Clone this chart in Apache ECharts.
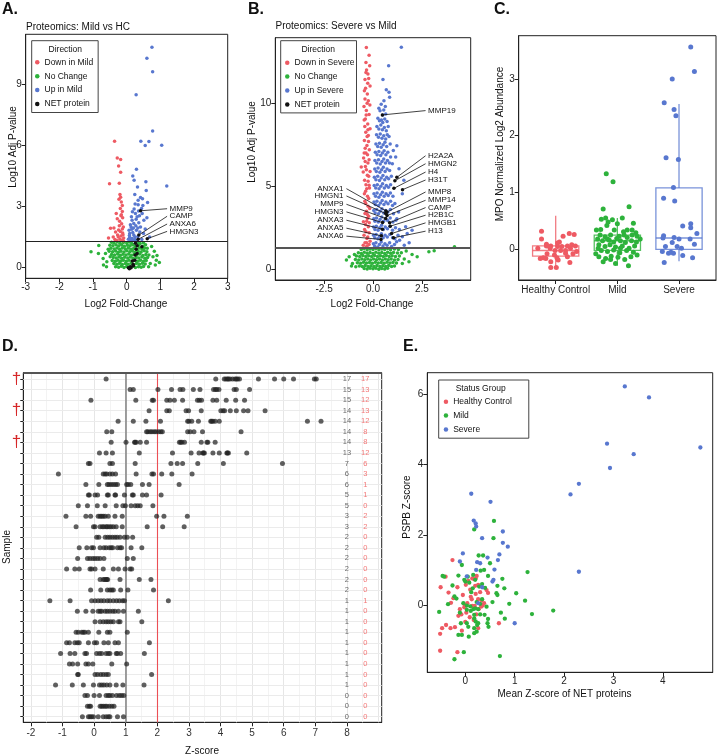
<!DOCTYPE html>
<html><head><meta charset="utf-8">
<script src="https://cdn.jsdelivr.net/npm/echarts@6/dist/echarts.min.js"></script>
<style>html,body{margin:0;padding:0;background:#fff}#c{width:717px;height:756px}</style>
</head><body><div id="c"></div>
<script>
// ---------------- Panel A: Mild vs HC volcano ----------------
const A_down = [[-0.36,6.2],[-0.28,5.38],[-0.18,5.3],[-0.24,4.99],[-0.18,4.68],[-0.51,4.11],[-0.22,4.14],[-0.2,3.59],[-0.18,3.45],[-0.23,3.35],[-0.16,3.22],[-0.13,3.05],[-0.19,2.9],[-0.13,2.75],[-0.31,2.66],[-0.17,2.55],[-0.28,2.4],[-0.21,2.28],[-0.15,2.15],[-0.1,2.0],[-0.38,1.95],[-0.48,1.93],[-0.24,1.85],[-0.33,1.75],[-0.12,1.7],[-0.27,1.6],[-0.17,1.55],[-0.54,1.45],[-0.09,1.45],[-0.2,1.4],[-0.35,1.38],[-0.14,1.35],[-0.25,1.5],[-0.11,1.62],[-0.19,1.78],[-0.13,1.9],[-0.22,2.05],[-0.4,1.5],[-0.12,2.45],[-0.16,2.6],[-0.1,1.32],[-0.3,1.33]];
const A_up = [[0.75,10.8],[0.6,10.27],[0.77,9.6],[0.28,8.48],[0.77,6.7],[0.42,6.2],[0.66,6.18],[0.55,5.99],[1.04,6.0],[0.29,4.83],[0.18,4.49],[0.22,4.28],[0.57,4.21],[1.19,4.01],[0.32,3.95],[0.58,3.78],[0.24,3.59],[0.41,3.44],[0.34,3.31],[0.47,3.38],[0.25,3.12],[0.34,3.08],[0.44,2.9],[0.17,2.74],[0.26,2.66],[0.31,2.5],[0.46,2.66],[0.51,2.33],[0.16,2.33],[0.21,2.17],[0.13,2.0],[0.29,1.84],[0.09,1.68],[0.21,1.6],[0.16,1.43],[0.09,1.48],[0.41,2.0],[0.5,1.68],[0.07,1.84],[0.12,1.35],[0.25,1.38],[0.33,1.52],[0.2,1.95],[0.36,2.2],[0.28,2.38],[0.11,2.1],[0.39,1.75],[0.05,1.4],[0.18,1.72],[0.27,2.05],[0.14,2.5],[0.35,2.78],[0.22,2.88],[0.48,3.05],[0.6,2.45],[0.68,1.5],[0.45,1.38],[0.08,1.58],[0.3,1.32],[0.2,1.33],[0.38,2.55],[0.62,3.2],[0.55,1.9],[0.15,1.88],[0.24,1.52],[0.33,1.95]];
const A_nochange = [[-1.06,0.78],[-0.83,1.09],[-0.84,0.7],[-0.63,0.7],[-0.49,0.54],[0.78,0.54],[0.82,0.8],[0.88,0.37],[0.97,0.26],[0.85,0.13],[-0.69,0.13],[-0.59,0.29],[0.74,1.04],[0.61,0.95],[-0.7,0.45],[-0.55,0.9],[0.9,0.6],[0.7,0.2],[-0.6,0.05],[0.65,0.05],
[-0.45,1.25],[-0.38,1.22],[-0.28,1.27],[-0.2,1.2],[-0.1,1.24],[0.0,1.21],[0.08,1.26],[0.15,1.19],[0.32,1.23],[0.4,1.18],[0.5,1.22],
[-0.5,1.1],[-0.41,1.08],[-0.32,1.12],[-0.24,1.06],[-0.15,1.11],[-0.07,1.05],[0.02,1.1],[0.1,1.07],[0.18,1.12],[0.26,1.05],[0.35,1.1],[0.48,1.05],[0.56,1.12],
[-0.47,0.95],[-0.37,0.92],[-0.29,0.97],[-0.21,0.9],[-0.13,0.96],[-0.04,0.92],[0.05,0.97],[0.13,0.9],[0.21,0.95],[0.3,0.91],[0.38,0.96],[0.46,0.9],[0.53,0.97],
[-0.52,0.8],[-0.42,0.78],[-0.33,0.82],[-0.25,0.76],[-0.17,0.81],[-0.08,0.77],[0.0,0.83],[0.09,0.78],[0.17,0.82],[0.25,0.76],[0.34,0.81],[0.43,0.77],[0.52,0.83],[0.6,0.78],
[-0.45,0.65],[-0.36,0.62],[-0.27,0.67],[-0.19,0.61],[-0.11,0.66],[-0.02,0.62],[0.06,0.67],[0.14,0.61],[0.22,0.66],[0.3,0.62],[0.39,0.67],[0.48,0.6],[0.57,0.65],[0.66,0.62],
[-0.4,0.5],[-0.31,0.47],[-0.23,0.52],[-0.15,0.46],[-0.06,0.51],[0.03,0.47],[0.11,0.52],[0.19,0.46],[0.28,0.5],[0.36,0.47],[0.45,0.52],[0.54,0.46],[0.62,0.5],
[-0.43,0.35],[-0.34,0.32],[-0.26,0.37],[-0.18,0.31],[-0.1,0.36],[-0.01,0.32],[0.07,0.37],[0.16,0.31],[0.24,0.36],[0.33,0.32],[0.41,0.37],[0.5,0.31],[0.58,0.35],
[-0.38,0.2],[-0.29,0.17],[-0.21,0.22],[-0.13,0.16],[-0.04,0.21],[0.04,0.17],[0.13,0.22],[0.21,0.16],[0.29,0.21],[0.38,0.17],[0.47,0.22],[0.55,0.18],
[-0.33,0.05],[-0.24,0.02],[-0.16,0.07],[-0.08,0.01],[0.0,0.06],[0.09,0.02],[0.18,0.07],[0.26,0.01],[0.35,0.05],[0.43,0.02],[0.5,0.06]];
const A_net = [[0.41,2.79],[0.36,1.6],[0.34,1.39],[0.61,1.42],[0.31,1.07],[0.45,1.03],[0.28,0.9],[0.25,0.62],[0.24,0.37],[0.19,0.16],[0.11,0.05],[0.13,0.0],[0.05,0.0],[0.17,0.33],[0.26,1.2],[0.31,0.7],[0.08,-0.05],[0.2,0.1]];
const A_labels = [
  {name:'MMP9', px:0.41, py:2.79, lx:1.2, ly:2.89, side:'r'},
  {name:'CAMP', px:0.36, py:1.6, lx:1.2, ly:2.52, side:'r'},
  {name:'ANXA6', px:0.34, py:1.39, lx:1.2, ly:2.14, side:'r'},
  {name:'HMGN3', px:0.61, py:1.42, lx:1.2, ly:1.78, side:'r'}
];
// ---------------- Panel B: Severe vs Mild volcano ----------------
const B_down = [[-0.34,13.36],[-0.2,12.9],[-0.36,12.46],[-0.17,12.26],[-0.36,11.86],[-0.26,11.76],[-0.41,11.44],[-0.15,11.04],[-0.44,10.76],[-0.29,10.56],[-0.41,10.26],[-0.24,10.16],[-0.46,9.8],[-0.34,9.56],[-0.2,9.32],[-0.39,9.06],[-0.27,8.76],[-0.15,8.46],[-0.37,8.26],[-0.24,8.06],[-0.44,7.76],[-0.31,7.46],[-0.19,7.2],[-0.36,7.0],[-0.48,6.7],[-0.26,6.4],[-0.39,6.2],[-0.6,6.16],[-0.5,5.86],[-0.29,5.66],[-0.43,5.36],[-0.2,5.06],[-0.32,4.86],[-0.44,4.56],[-0.22,4.26],[-0.37,3.96],[-0.17,3.66],[-0.41,3.36],[-0.29,3.06],[-0.49,2.86],[-0.24,2.56],[-0.36,2.26],[-0.46,2.06],[-0.31,1.86],[-0.41,1.6],[-0.2,1.5],[-0.3,1.4],
[-0.33,12.0],[-0.22,11.5],[-0.38,10.9],[-0.3,10.0],[-0.35,9.3],[-0.42,8.6],[-0.3,8.0],[-0.23,7.7],[-0.4,7.3],[-0.28,6.9],[-0.2,6.6],[-0.34,6.0],[-0.25,5.3],[-0.38,4.7],[-0.28,4.4],[-0.25,3.8],[-0.33,3.5],[-0.22,3.2],[-0.38,2.7],[-0.2,2.2],[-0.27,1.95],[-0.5,1.45],[-0.15,1.7],[-0.35,1.35],[-0.42,4.1],[-0.15,5.9],[-0.45,7.0],[-0.16,9.9],[-0.27,11.2],[-0.45,9.0],[-0.18,4.9],[-0.32,2.9],[-0.26,8.4],[-0.4,6.5],[-0.22,5.6],[-0.36,5.1],[-0.29,3.3],[-0.43,2.4],[-0.19,2.8],[-0.33,1.6]];
const B_up = [[1.45,13.38],[0.8,12.26],[0.51,11.44],[0.68,10.82],[0.82,10.66],[0.85,10.36],[0.56,10.16],[0.63,9.8],[0.65,9.36],[0.43,9.0],[0.5,9.3],[0.82,8.0],[1.22,7.44],[1.04,7.16],[0.9,6.76],[1.16,6.76],[0.99,6.36],[1.33,6.06],[1.58,5.36],[1.5,4.56],[1.12,3.96],[1.31,3.46],[1.17,2.96],[1.67,2.56],[2.0,2.36],[1.75,2.16],[1.5,1.96],[1.36,1.76],[1.0,1.9],[1.21,1.66],[1.85,1.6],[1.6,1.45],
[0.3,9.7],[0.42,9.95],[0.36,9.55],[0.55,9.6],
[0.25,9.1],[0.33,8.95],[0.5,8.85],[0.6,9.05],[0.72,8.9],
[0.2,8.6],[0.3,8.45],[0.4,8.7],[0.48,8.4],[0.58,8.55],[0.68,8.35],[0.78,8.6],
[0.18,8.1],[0.28,7.95],[0.37,8.15],[0.46,7.9],[0.55,8.05],[0.65,7.85],[0.73,8.1],
[0.15,7.55],[0.24,7.4],[0.33,7.6],[0.42,7.35],[0.52,7.5],[0.61,7.65],[0.7,7.4],[0.88,7.55],
[0.12,7.05],[0.21,6.9],[0.3,7.1],[0.39,6.85],[0.48,7.0],[0.57,7.15],[0.66,6.9],[0.76,7.05],
[0.1,6.55],[0.19,6.4],[0.28,6.6],[0.37,6.35],[0.46,6.5],[0.55,6.65],[0.64,6.4],[0.74,6.55],[0.84,6.4],
[0.09,6.05],[0.17,5.9],[0.26,6.1],[0.35,5.85],[0.44,6.0],[0.53,6.15],[0.62,5.9],[0.72,6.05],[0.85,5.95],
[0.07,5.55],[0.15,5.4],[0.24,5.6],[0.33,5.35],[0.42,5.5],[0.51,5.65],[0.6,5.4],[0.7,5.55],[0.8,5.45],[0.94,5.6],
[0.06,5.05],[0.14,4.9],[0.22,5.1],[0.31,4.85],[0.4,5.0],[0.49,5.15],[0.58,4.9],[0.68,5.05],[0.79,4.95],[0.9,5.1],
[0.05,4.55],[0.13,4.4],[0.21,4.6],[0.3,4.35],[0.39,4.5],[0.48,4.65],[0.57,4.4],[0.67,4.55],[0.78,4.45],[0.89,4.6],[1.02,4.4],
[0.05,4.05],[0.12,3.9],[0.2,4.1],[0.29,3.85],[0.38,4.0],[0.47,4.15],[0.56,3.9],[0.66,4.05],[0.77,3.95],[0.9,4.1],[1.0,3.85],
[0.04,3.55],[0.11,3.4],[0.19,3.6],[0.28,3.35],[0.37,3.5],[0.46,3.65],[0.55,3.4],[0.65,3.55],[0.76,3.45],[0.89,3.6],[1.05,3.35],
[0.04,3.05],[0.1,2.9],[0.18,3.1],[0.27,2.85],[0.36,3.0],[0.45,3.15],[0.54,2.9],[0.64,3.05],[0.75,2.95],[0.88,3.1],[1.02,2.85],[1.22,3.05],
[0.03,2.55],[0.1,2.4],[0.17,2.6],[0.26,2.35],[0.35,2.5],[0.44,2.65],[0.53,2.4],[0.63,2.55],[0.74,2.45],[0.87,2.6],[1.0,2.35],[1.15,2.5],[1.35,2.4],
[0.03,2.05],[0.09,1.9],[0.16,2.1],[0.25,1.85],[0.34,2.0],[0.43,2.15],[0.52,1.9],[0.62,2.05],[0.73,1.95],[0.86,2.1],[1.12,1.85],[1.28,2.05],
[0.02,1.55],[0.08,1.4],[0.15,1.6],[0.24,1.35],[0.33,1.5],[0.42,1.65],[0.51,1.4],[0.61,1.55],[0.72,1.45],[0.85,1.6],[0.95,1.38],[1.1,1.5]];
const B_nochange = [[2.86,1.06],[3.13,1.12],[4.17,1.36],[2.26,0.76],[-1.36,0.56],[-1.22,0.76],[-1.05,0.36],[-0.88,0.16],[1.5,0.36],[1.84,0.46],[2.0,0.9],[1.7,1.1],[-0.95,0.9],[-1.1,0.2],
[-0.6,1.2],[-0.45,1.25],[-0.3,1.18],[-0.15,1.22],[0.0,1.2],[0.15,1.25],[0.3,1.18],[0.45,1.22],[0.6,1.2],[0.75,1.25],[0.9,1.18],[1.1,1.22],[1.3,1.2],
[-0.75,1.0],[-0.6,0.95],[-0.45,1.03],[-0.3,0.97],[-0.15,1.02],[0.0,0.96],[0.15,1.03],[0.3,0.97],[0.45,1.02],[0.6,0.96],[0.75,1.03],[0.9,0.97],[1.05,1.02],[1.25,0.98],[1.45,1.0],
[-0.85,0.8],[-0.68,0.77],[-0.52,0.83],[-0.37,0.78],[-0.22,0.82],[-0.07,0.77],[0.08,0.83],[0.23,0.78],[0.38,0.82],[0.53,0.77],[0.68,0.83],[0.83,0.78],[0.98,0.82],[1.15,0.78],[1.35,0.8],
[-0.9,0.6],[-0.73,0.57],[-0.57,0.63],[-0.42,0.58],[-0.27,0.62],[-0.12,0.57],[0.03,0.63],[0.18,0.58],[0.33,0.62],[0.48,0.57],[0.63,0.63],[0.78,0.58],[0.93,0.62],[1.1,0.57],[1.28,0.6],[1.6,0.62],
[-0.8,0.4],[-0.63,0.37],[-0.48,0.43],[-0.33,0.38],[-0.18,0.42],[-0.03,0.37],[0.12,0.43],[0.27,0.38],[0.42,0.42],[0.57,0.37],[0.72,0.43],[0.87,0.38],[1.02,0.42],[1.2,0.38],
[-0.7,0.2],[-0.55,0.17],[-0.4,0.23],[-0.25,0.18],[-0.1,0.22],[0.05,0.17],[0.2,0.23],[0.35,0.18],[0.5,0.22],[0.65,0.17],[0.8,0.23],[0.95,0.18],[1.1,0.2],
[-0.45,0.05],[-0.3,0.02],[-0.15,0.07],[0.0,0.03],[0.15,0.06],[0.3,0.01],[0.45,0.05],[0.6,0.02],[0.75,0.06]];
const B_labels = [
  {name:'MMP19', px:0.48, py:9.3, lx:2.69, ly:9.56, side:'r'},
  {name:'H2A2A', px:1.22, py:5.54, lx:2.69, ly:6.84, side:'r'},
  {name:'HMGN2', px:1.12, py:5.34, lx:2.69, ly:6.36, side:'r'},
  {name:'H4', px:1.07, py:4.88, lx:2.69, ly:5.86, side:'r'},
  {name:'H31T', px:1.51, py:4.8, lx:2.69, ly:5.38, side:'r'},
  {name:'MMP8', px:0.7, py:3.44, lx:2.69, ly:4.66, side:'r'},
  {name:'MMP14', px:0.72, py:3.24, lx:2.69, ly:4.16, side:'r'},
  {name:'CAMP', px:0.85, py:2.8, lx:2.69, ly:3.72, side:'r'},
  {name:'H2B1C', px:0.88, py:2.6, lx:2.69, ly:3.26, side:'r'},
  {name:'HMGB1', px:0.95, py:2.16, lx:2.69, ly:2.8, side:'r'},
  {name:'H13', px:1.05, py:1.9, lx:2.69, ly:2.3, side:'r'},
  {name:'ANXA1', px:0.66, py:3.52, lx:-1.36, ly:4.86, side:'l'},
  {name:'HMGN1', px:0.65, py:3.36, lx:-1.36, ly:4.42, side:'l'},
  {name:'MMP9', px:0.65, py:3.06, lx:-1.36, ly:3.92, side:'l'},
  {name:'HMGN3', px:0.49, py:2.82, lx:-1.36, ly:3.46, side:'l'},
  {name:'ANXA3', px:0.48, py:2.42, lx:-1.36, ly:2.96, side:'l'},
  {name:'ANXA5', px:0.43, py:2.02, lx:-1.36, ly:2.48, side:'l'},
  {name:'ANXA6', px:0.41, py:1.8, lx:-1.36, ly:2.0, side:'l'}
];
// ---------------- Panel C: MPO box plot ----------------
const C_categories = ['Healthy Control','Mild','Severe'];
// [low whisker, Q1, median, Q3, high whisker]
const C_boxStats = [[-0.33,-0.12,-0.02,0.06,0.59],[-0.29,-0.02,0.15,0.25,0.55],[-0.21,0.0,0.2,1.08,2.56]];
// [jitter offset from category, value]
const C_hc = [[-0.23,0.32],[-0.23,0.18],[-0.29,0.02],[-0.08,0.06],[0.06,0.13],[0.19,0.06],[0.22,0.28],[0.3,0.26],[0.12,0.23],[0.03,0.11],[-0.15,0.09],[-0.09,0.02],[-0.16,-0.16],[-0.2,-0.15],[-0.02,-0.1],[0.16,-0.02],[0.24,0.02],[0.26,0.08],[0.32,0.06],[0.34,-0.04],[0.23,-0.23],[0.01,-0.32],[-0.08,-0.32],[-0.08,-0.22],[0.04,-0.19],[0.16,-0.07],[-0.01,-0.02],[-0.14,-0.08],[0.1,0.05],[0.28,-0.08],[0.03,0.05],[0.08,-0.02],[-0.15,0.06],[0.02,-0.15],[-0.25,-0.16],[0.19,-0.13]];
const C_mild = [[-0.18,1.33],[-0.07,1.19],[-0.23,0.71],[0.19,0.75],[-0.26,0.53],[-0.19,0.55],[0.08,0.55],[0.26,0.46],[-0.17,0.42],[0.0,0.45],[-0.34,0.34],[-0.15,0.48],[-0.05,0.34],[0.1,0.31],[0.24,0.34],[0.3,0.29],[-0.28,0.25],[-0.2,0.22],[-0.11,0.25],[0.03,0.23],[0.16,0.21],[0.32,0.23],[-0.32,0.18],[-0.24,0.15],[-0.16,0.18],[-0.06,0.13],[0.05,0.15],[0.13,0.12],[0.23,0.15],[0.31,0.13],[-0.3,0.08],[-0.2,0.05],[-0.12,0.08],[-0.03,0.04],[0.08,0.06],[0.19,0.02],[0.28,0.06],[-0.26,-0.02],[-0.16,-0.04],[-0.06,-0.01],[0.04,-0.06],[0.15,-0.02],[0.26,-0.05],[-0.3,-0.13],[-0.19,-0.16],[-0.1,-0.12],[0.01,-0.14],[0.12,-0.18],[0.22,-0.13],[-0.11,-0.18],[-0.23,-0.22],[0.18,-0.29],[-0.03,-0.25],[0.32,-0.1],[-0.31,0.02],[0.16,0.34],[-0.08,0.52],[0.11,0.25],[-0.27,0.35],[0.24,0.25],[-0.13,0.16],[-0.01,0.19],[0.05,0.02],[0.37,0.18],[-0.35,-0.08]];
const C_severe = [[0.19,3.56],[0.25,3.13],[-0.11,3.0],[-0.24,2.58],[-0.08,2.46],[-0.05,2.35],[-0.21,1.61],[-0.01,1.58],[-0.09,1.09],[-0.25,0.9],[-0.07,0.85],[0.06,0.41],[0.19,0.45],[0.19,0.38],[0.29,0.28],[-0.25,0.24],[-0.08,0.21],[0.0,0.18],[0.18,0.18],[-0.26,0.2],[0.25,0.09],[-0.22,0.05],[-0.03,0.05],[-0.11,0.12],[-0.13,-0.05],[-0.27,-0.04],[-0.09,-0.07],[-0.17,-0.07],[0.06,-0.11],[0.22,-0.15],[-0.24,-0.23],[0.04,0.02]];
// ---------------- Panel D: per-sample NET protein Z-scores ----------------
const D_rows = [
 [0.38,3.85,4.12,4.17,4.22,4.25,4.3,4.38,4.46,4.5,4.54,4.6,5.2,5.71,6.0,6.31,6.97,7.03],
 [1.14,1.24,2.02,2.45,2.72,2.81,3.14,3.35,3.78,3.84,3.88,3.95,4.43,4.5,4.92],
 [-0.1,1.32,1.84,1.88,2.3,2.4,2.54,2.8,3.27,3.33,3.4,3.76,3.88,4.18,4.48,4.76],
 [1.74,2.3,2.38,2.91,2.99,3.39,4.01,4.08,4.13,4.31,4.5,4.73,4.87,5.41],
 [0.76,1.24,1.64,2.1,2.96,3.0,3.09,3.3,3.69,3.72,3.76,3.83,3.96,6.75,7.18],
 [0.4,0.56,1.66,1.7,1.77,1.83,1.9,1.96,2.04,2.11,2.16,2.96,3.04,3.16,3.43,4.65],
 [0.54,1.01,1.28,1.3,1.33,1.46,1.66,2.7,2.74,2.78,2.86,3.39,3.57,3.6,3.83],
 [0.17,0.38,0.58,1.43,2.48,3.07,3.32,3.44,3.46,3.49,3.76,3.96,4.2,4.22,4.25,4.83],
 [-0.18,-0.13,0.5,0.58,1.3,2.43,2.63,2.8,3.28,4.09,5.96],
 [-1.13,0.29,0.35,0.4,0.5,0.58,0.68,1.33,1.83,1.88,2.14,2.46,3.1],
 [-0.26,0.15,0.42,0.47,0.54,0.61,0.68,0.74,1.03,1.08,1.16,1.53,1.74,2.69],
 [-0.18,-0.15,0.03,0.11,0.42,0.45,0.66,0.68,0.96,1.21,1.24,1.53,1.66,2.12],
 [-0.5,-0.21,0.1,0.35,0.7,0.91,0.99,1.17,1.3,1.38,1.46,1.86],
 [-0.89,-0.26,-0.11,0.13,0.19,0.24,0.29,0.35,0.45,0.66,0.89,1.98,2.21,2.95],
 [-0.57,-0.02,0.03,0.19,0.26,0.31,0.38,0.42,0.48,0.54,0.61,0.7,0.89,1.68,2.17,2.85],
 [0.08,0.15,0.35,0.43,0.5,0.58,0.66,0.73,0.82,0.96,1.05,1.22],
 [-0.47,-0.23,-0.08,-0.02,0.19,0.31,0.38,0.48,0.54,0.59,0.74,0.82,0.87,1.17,1.51],
 [-0.52,-0.21,-0.13,-0.04,0.03,0.11,0.19,0.31,1.05,1.24],
 [-0.87,-0.61,-0.47,-0.13,-0.08,0.03,0.29,0.61,0.77,0.98,1.14,1.19],
 [0.19,0.29,0.33,0.38,0.4,0.43,0.82,1.43,1.8],
 [-0.11,0.21,0.42,0.5,0.56,0.61,0.84,1.07,1.88],
 [-1.4,-0.76,-0.08,0.03,0.13,0.22,0.31,0.42,0.5,0.61,0.71,0.8,0.9,0.96,2.35],
 [-0.53,-0.26,-0.04,0.13,0.19,0.24,0.35,0.42,0.5,0.59,0.66,0.77,0.93,1.4],
 [0.03,0.19,0.29,0.38,0.45,0.53,0.61,0.77,0.82,1.51],
 [-0.57,-0.5,-0.39,-0.34,-0.29,-0.18,0.15,0.42,0.5,1.05],
 [-0.87,-0.78,-0.61,-0.53,-0.47,-0.18,0.01,0.08,0.31,0.45,0.66,0.77,1.75],
 [-1.06,-0.76,-0.61,-0.29,-0.24,0.08,0.17,0.24,0.38,0.45,0.5,0.7,0.74,0.84,1.59],
 [-0.78,-0.68,-0.52,-0.26,-0.18,-0.04,0.56,1.03],
 [-0.52,-0.5,0.03,0.11,0.21,0.29,0.38,0.45,1.82],
 [-1.22,-0.69,-0.34,-0.02,0.17,0.24,0.31,0.4,0.5,0.7,0.91,1.58],
 [-0.29,-0.21,0.0,0.17,0.38,0.45,0.5,0.58,0.71,0.8,0.87,0.94],
 [-0.21,-0.15,-0.11,0.19,0.24,0.29,0.35,0.4,0.48,0.56,0.63],
 [-0.37,-0.18,-0.13,-0.08,-0.02,0.13,0.29,0.38,0.45,0.5,0.74,0.93]
];
const D_countAbove1 = [17,15,15,14,14,14,14,13,7,6,6,5,5,3,3,2,2,2,2,2,2,1,1,1,1,1,1,1,1,1,0,0,0];
const D_countAbove2 = [17,13,12,13,12,8,8,12,6,3,1,1,0,2,2,0,0,0,0,0,0,1,0,0,0,0,0,0,0,0,0,0,0];
const D_daggerRows = [1,4,7];
const D_xTicks = [-2,-1,0,1,2,3,4,5,6,7,8];
// ---------------- Panel E: PSPB vs mean NET Z-score ----------------
const E_hc = [[-0.26,1.29],[-0.4,0.82],[-0.5,0.52],[-0.34,0.37],[-0.29,0.08],[-0.24,0.21],[-0.16,0.52],[-0.11,-0.1],[-0.14,-0.29],[-0.08,-0.25],[-0.01,0.0],[0.04,0.07],[-0.02,-0.05],[0.01,0.59],[0.06,0.7],[0.14,0.77],[0.18,0.75],[0.21,0.77],[0.23,0.84],[0.2,0.56],[0.26,0.59],[0.21,0.33],[0.11,0.25],[0.13,0.18],[0.14,-0.01],[0.19,-0.01],[0.26,0.18],[0.27,-0.1],[0.32,-0.03],[0.35,0.0],[0.38,0.07],[0.43,0.44],[0.46,0.36],[-0.51,-0.8],[-0.47,-0.64],[-0.39,-0.55],[-0.3,-0.64],[-0.21,-0.61],[-0.07,-0.71],[0.0,-0.46],[0.09,-0.33],[0.17,-0.41],[-0.51,-1.28],[-0.16,-1.32],[0.68,-0.5],[0.26,-0.64],[0.3,0.38],[-0.05,0.3],[0.1,0.45],[0.02,-0.2],[0.22,-0.25],[0.33,0.15]];
const E_mild = [[-0.53,-0.18],[-0.46,0.84],[-0.43,0.82],[-0.35,0.04],[-0.26,0.57],[-0.22,0.26],[-0.07,1.15],[-0.14,0.85],[-0.02,0.73],[0.05,0.82],[0.0,0.68],[0.08,0.65],[0.16,0.87],[0.18,2.16],[0.58,2.4],[0.57,1.91],[0.27,1.42],[0.36,1.42],[0.38,1.01],[0.5,1.2],[0.31,0.99],[0.34,0.61],[0.28,0.54],[0.46,0.84],[0.75,0.76],[0.79,0.49],[0.63,0.35],[0.65,0.56],[0.65,0.3],[0.2,0.73],[0.15,0.49],[-0.11,-0.2],[-0.09,-0.5],[-0.07,-0.83],[-0.14,-0.83],[0.07,-0.88],[0.03,-0.5],[0.06,-0.6],[0.03,-0.12],[0.11,-0.15],[0.16,-0.1],[0.2,-0.08],[0.26,-0.1],[0.18,-0.26],[0.18,-0.36],[0.21,-0.45],[0.24,-0.55],[0.18,-0.64],[0.18,-0.78],[0.23,-0.74],[0.26,-0.5],[0.3,-0.25],[0.39,-0.26],[0.43,-0.03],[0.46,-0.38],[0.47,-0.6],[0.45,-0.5],[-0.03,-1.32],[-0.22,-1.52],[0.7,-1.43],[0.89,0.05],[1.03,0.35],[1.21,0.14],[1.26,0.95],[1.35,-0.24],[1.78,-0.14],[0.8,-0.37],[0.34,0.18],[-0.04,0.07],[0.03,0.0],[0.1,-0.02],[0.23,0.1],[0.3,0.05],[0.12,0.38],[0.4,0.5],[-0.18,0.2],[0.55,0.1],[0.72,-0.2]];
const E_severe = [[0.12,3.17],[0.51,2.94],[0.17,2.41],[0.21,2.33],[0.22,2.24],[0.34,1.91],[0.76,2.1],[0.76,1.78],[0.86,1.67],[-0.05,1.48],[-0.11,1.25],[0.69,1.45],[0.66,1.29],[0.24,1.23],[0.3,1.2],[0.22,1.01],[0.59,1.02],[0.45,1.36],[0.03,0.83],[0.57,0.73],[0.55,0.68],[0.34,0.52],[0.26,0.07],[1.0,-0.5],[3.23,6.21],[3.72,5.9],[2.87,4.59],[4.76,4.48],[3.41,4.29],[2.93,3.9],[2.3,3.45],[2.13,3.15],[2.3,0.96]];

// ---------------- styling ----------------
const RED = '#EE5A63', GREEN = '#2DB23B', BLUE = '#5877CF', NETC = '#111111';
const FONT = 'Liberation Sans, Arial, Helvetica, sans-serif';
const INK = '#222';

function valAxis(gi, min, max, ticks, extra) {
  const o = {
    type: 'value', gridIndex: gi, min: min, max: max,
    axisLine: {show: true, onZero: false, lineStyle: {color: INK, width: 1}},
    axisTick: {show: true, inside: false, length: 4, customValues: ticks, lineStyle: {color: INK, width: 1}},
    axisLabel: {show: true, customValues: ticks, fontSize: 10, color: INK, fontFamily: FONT, margin: 4, showMinLabel: true, showMaxLabel: true},
    splitLine: {show: false}
  };
  return Object.assign(o, extra || {});
}

const grids = [
  {left: 25.7, top: 34.3, width: 202, height: 244},
  {left: 275.3, top: 37.7, width: 195.4, height: 242.3},
  {left: 518.7, top: 35.7, width: 197.3, height: 244.3},
  {left: 23.3, top: 372.7, width: 358.4, height: 349.6},
  {left: 427.3, top: 372.7, width: 285.4, height: 299.6}
].map(g => Object.assign({show: true, borderColor: INK, borderWidth: 1, backgroundColor: 'transparent'}, g));

const xAxes = [
  valAxis(0, -3, 3, [-3,-2,-1,0,1,2,3]),
  valAxis(1, -5, 5, [-2.5,0,2.5]),
  valAxis(2, -0.6, 2.6, [0,1,2]),
  valAxis(3, -2.24, 9.1, D_xTicks),
  valAxis(4, -0.77, 5.01, [0,1,2,3,4])
];
xAxes[1].axisLabel.formatter = v => v.toFixed(1);
xAxes[2].axisLabel.formatter = v => C_categories[Math.round(v)];
xAxes[2].axisLabel.margin = 5;
xAxes[3].axisLabel.margin = 6;
xAxes[3].axisLabel.color = '#333';

const yRows = D_rows.map((r, i) => i + 1);
const yAxes = [
  valAxis(0, -0.52, 11.44, [0,3,6,9]),
  valAxis(1, -0.64, 13.95, [0,5,10]),
  valAxis(2, -0.54, 3.76, [0,1,2,3]),
  valAxis(3, 0.4, 33.53, yRows, {inverse: true}),
  valAxis(4, -1.89, 6.6, [0,2,4,6])
];
yAxes[3].axisTick.length = 3;
yAxes[3].axisLabel = {show: true, customValues: yRows, margin: 2, fontSize: 17, color: '#D62728', fontFamily: FONT,
  formatter: v => D_daggerRows.indexOf(Math.round(v)) >= 0 ? '\u2020' : ''};

function sc(name, gi, data, color, size, z) {
  return {type: 'scatter', name: name, xAxisIndex: gi, yAxisIndex: gi, data: data, symbol: 'circle', symbolSize: size,
    itemStyle: {color: color, opacity: 1}, z: z || 2, silent: true, animation: false};
}
function hline(v, color, width) {
  return {silent: true, symbol: ['none','none'], label: {show: false}, animation: false,
    lineStyle: {color: color, width: width, type: 'solid'}, data: [{yAxis: v}]};
}
function labelSeries(gi, labels) {
  return {type: 'custom', xAxisIndex: gi, yAxisIndex: gi, z: 6, silent: true, animation: false,
    data: labels.map(l => [l.px, l.py, l.lx, l.ly]),
    renderItem: (params, api) => {
      const L = labels[params.dataIndex];
      const p = api.coord([L.px, L.py]);
      const q = api.coord([L.lx, L.ly]);
      const right = L.side === 'r';
      return {type: 'group', children: [
        {type: 'line', shape: {x1: p[0], y1: p[1], x2: q[0], y2: q[1]}, style: {stroke: '#111', lineWidth: 0.8}},
        {type: 'text', x: q[0] + (right ? 2.5 : -3), y: q[1], style: {text: L.name, fill: '#111', fontSize: 8, fontFamily: FONT, align: right ? 'left' : 'right', verticalAlign: 'middle'}}
      ]};
    }};
}
function vlineSeries(gi, v, color, width, z) {
  return {type: 'scatter', xAxisIndex: gi, yAxisIndex: gi, data: [], z: z, silent: true,
    markLine: {z: z, silent: true, symbol: ['none','none'], label: {show: false}, animation: false,
      lineStyle: {color: color, width: width, type: 'solid'}, data: [{xAxis: v}]}};
}

const series = [];
// A
series.push(sc('No Change', 0, A_nochange, GREEN, 3.5, 2), sc('Down in Mild', 0, A_down, RED, 3.5, 3), sc('Up in Mild', 0, A_up, BLUE, 3.5, 3));
const aNet = sc('NET protein', 0, A_net, NETC, 3.5, 5);
aNet.markLine = hline(1.3, '#222', 1);
series.push(aNet, labelSeries(0, A_labels));
// B
series.push(sc('No Change', 1, B_nochange, GREEN, 3.5, 2), sc('Down in Severe', 1, B_down, RED, 3.5, 3), sc('Up in Severe', 1, B_up, BLUE, 3.5, 3));
const bNet = sc('NET protein', 1, B_labels.map(l => [l.px, l.py]), NETC, 3.5, 5);
bNet.markLine = hline(1.3, '#555', 1.8);
series.push(bNet, labelSeries(1, B_labels));
// C boxes
const boxColors = [RED, GREEN, BLUE];
series.push({type: 'custom', xAxisIndex: 2, yAxisIndex: 2, z: 2, silent: true, animation: false,
  data: C_boxStats.map((s, i) => [i].concat(s)),
  renderItem: (params, api) => {
    const c = api.value(0);
    const w = api.size([0.75, 0])[0];
    const lo = api.coord([c, api.value(1)]), q1 = api.coord([c, api.value(2)]), md = api.coord([c, api.value(3)]),
          q3 = api.coord([c, api.value(4)]), hi = api.coord([c, api.value(5)]);
    const col = boxColors[params.dataIndex];
    const st = {stroke: col, lineWidth: 1.3, fill: 'none', opacity: 0.8};
    return {type: 'group', children: [
      {type: 'line', shape: {x1: hi[0], y1: hi[1], x2: q3[0], y2: q3[1]}, style: st},
      {type: 'line', shape: {x1: lo[0], y1: lo[1], x2: q1[0], y2: q1[1]}, style: st},
      {type: 'rect', shape: {x: q3[0] - w/2, y: q3[1], width: w, height: q1[1] - q3[1]}, style: st},
      {type: 'line', shape: {x1: md[0] - w/2, y1: md[1], x2: md[0] + w/2, y2: md[1]}, style: Object.assign({}, st, {lineWidth: 1.6})}
    ]};
  }});
series.push(sc('HC points', 2, C_hc.map(p => [0 + p[0], p[1]]), RED, 5, 4));
series.push(sc('Mild points', 2, C_mild.map(p => [1 + p[0], p[1]]), GREEN, 5, 4));
series.push(sc('Severe points', 2, C_severe.map(p => [2 + p[0], p[1]]), BLUE, 5, 4));
// D
const dPts = [];
D_rows.forEach((row, i) => row.forEach(v => dPts.push([v, i + 1])));
const dGridLines = [];
for (let k = -4; k <= 18; k++) {
  const v = k / 2;
  if (v < -2.24 || v > 9.1) continue;
  dGridLines.push({xAxis: v, lineStyle: {color: (k % 2 === 0) ? '#E6E6E6' : '#F3F3F3', width: 1, type: 'solid'}});
}
yRows.forEach(r => dGridLines.push({yAxis: r, lineStyle: {color: '#EBEBEB', width: 1, type: 'solid'}}));
series.push({type: 'scatter', name: 'grid', xAxisIndex: 3, yAxisIndex: 3, data: [], z: 1, silent: true,
  markLine: {z: 1, silent: true, symbol: ['none','none'], label: {show: false}, animation: false, data: dGridLines}});
series.push(vlineSeries(3, 1, '#888888', 1.6, 2));
series.push(vlineSeries(3, 2, '#EC4F55', 1.1, 2));
series.push(sc('Z-scores', 3, dPts, 'rgba(35,35,35,0.72)', 5, 3));
series.push({type: 'scatter', xAxisIndex: 3, yAxisIndex: 3, z: 4, silent: true, animation: false, symbolSize: 1,
  itemStyle: {color: 'rgba(0,0,0,0)'}, data: D_countAbove1.map((c, i) => [8.0, i + 1, c]),
  label: {show: true, position: 'inside', formatter: p => String(p.value[2]), fontSize: 7.5, color: '#444', fontFamily: FONT}});
series.push({type: 'scatter', xAxisIndex: 3, yAxisIndex: 3, z: 4, silent: true, animation: false, symbolSize: 1,
  itemStyle: {color: 'rgba(0,0,0,0)'}, data: D_countAbove2.map((c, i) => [8.58, i + 1, c]),
  label: {show: true, position: 'inside', formatter: p => String(p.value[2]), fontSize: 7.5, color: '#F05555', fontFamily: FONT}});
// E
series.push(sc('Healthy Control', 4, E_hc, RED, 4.3, 3), sc('Mild', 4, E_mild, GREEN, 4.3, 3), sc('Severe', 4, E_severe, BLUE, 4.3, 3));

function legend(left, top, names, padding) {
  return {left: left, top: top, orient: 'vertical', data: names, icon: 'circle', itemWidth: 4.5, itemHeight: 4.5,
    itemGap: 2.9, padding: padding, borderColor: '#444', borderWidth: 1, backgroundColor: '#fff', selectedMode: false,
    textStyle: {fontSize: 8.5, color: '#111', fontFamily: FONT, lineHeight: 11}};
}
const legends = [
  legend(31.7, 40.7, ['Down in Mild','No Change','Up in Mild','NET protein'], [16.1, 5, 3, 3.3]),
  legend(280.7, 40.7, ['Down in Severe','No Change','Up in Severe','NET protein'], [16.5, 2, 3, 4.3]),
  legend(438.7, 380, ['Healthy Control','Mild','Severe'], [16.2, 17, 3.2, 5])
];

function T(x, y, text, opt) {
  opt = opt || {};
  return {type: 'text', x: x, y: y, rotation: opt.rot || 0, z: 100,
    style: {text: text, fontSize: opt.size || 10, fontWeight: opt.bold ? 'bold' : 'normal', fontFamily: FONT,
      fill: opt.color || '#111', align: opt.align || 'center', verticalAlign: 'middle'}};
}
const graphics = [
  T(2, 9.5, 'A.', {size: 16, bold: true, align: 'left'}),
  T(248, 9.5, 'B.', {size: 16, bold: true, align: 'left'}),
  T(494, 10, 'C.', {size: 16, bold: true, align: 'left'}),
  T(2, 347, 'D.', {size: 16, bold: true, align: 'left'}),
  T(403, 347, 'E.', {size: 16, bold: true, align: 'left'}),
  T(26, 27, 'Proteomics: Mild vs HC', {align: 'left'}),
  T(275.5, 26, 'Proteomics: Severe vs Mild', {align: 'left'}),
  T(13, 147, 'Log10 Adj P-value', {rot: Math.PI/2}),
  T(126, 304, 'Log2 Fold-Change'),
  T(252, 142, 'Log10 Adj P-value', {rot: Math.PI/2}),
  T(372, 304, 'Log2 Fold-Change'),
  T(500, 144, 'MPO Normalized Log2 Abundance', {rot: Math.PI/2}),
  T(7, 547, 'Sample', {rot: Math.PI/2}),
  T(202, 751, 'Z-score'),
  T(407, 507, 'PSPB Z-score', {rot: Math.PI/2}),
  T(564.5, 694, 'Mean Z-score of NET proteins'),
  T(65.3, 49.5, 'Direction', {size: 8.5}),
  T(318.2, 49.5, 'Direction', {size: 8.5}),
  T(480.7, 388.5, 'Status Group', {size: 8.5}),
  {type: 'line', z: 100, shape: {x1: 23.3, y1: 373, x2: 381.7, y2: 373}, style: {stroke: '#555', lineWidth: 2}}
];

const chart = echarts.init(document.getElementById('c'), null, {renderer: 'canvas', width: 717, height: 756});
chart.setOption({
  animation: false,
  backgroundColor: '#fff',
  textStyle: {fontFamily: FONT},
  grid: grids, xAxis: xAxes, yAxis: yAxes, series: series, legend: legends, graphic: graphics
});
</script></body></html>
